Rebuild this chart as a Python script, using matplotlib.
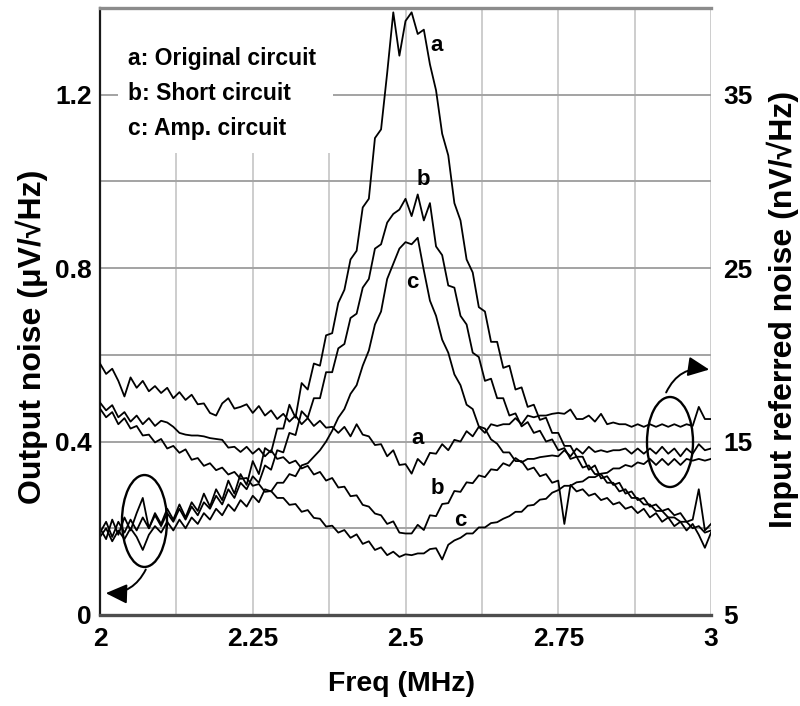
import numpy as np
import matplotlib
matplotlib.use("Agg")
import matplotlib.pyplot as plt
from matplotlib.patches import Ellipse, Rectangle
from matplotlib.font_manager import FontProperties

plt.rcParams['font.family'] = ['Liberation Sans', 'DejaVu Sans']

# Frequency sweep (MHz)
freq_mhz = np.linspace(2.0, 3.0, 101)

# Output noise, uV/sqrt(Hz) (left axis)
out_a = [0.20, 0.175, 0.22, 0.185, 0.225, 0.195, 0.235, 0.27, 0.20, 0.235,
         0.21, 0.245, 0.22, 0.255, 0.225, 0.26, 0.24, 0.28, 0.25, 0.29,
         0.265, 0.31, 0.28, 0.325, 0.30, 0.355, 0.325, 0.385, 0.375, 0.43,
         0.43, 0.485, 0.455, 0.535, 0.52, 0.58, 0.575, 0.645, 0.65, 0.72,
         0.75, 0.82, 0.84, 0.94, 0.96, 1.10, 1.12, 1.25, 1.39, 1.29,
         1.37, 1.39, 1.34, 1.35, 1.27, 1.21, 1.11, 1.06, 0.95, 0.91,
         0.82, 0.79, 0.71, 0.70, 0.63, 0.63, 0.57, 0.575, 0.52, 0.525,
         0.48, 0.485, 0.45, 0.455, 0.42, 0.42, 0.39, 0.39, 0.365, 0.365,
         0.335, 0.345, 0.315, 0.32, 0.30, 0.305, 0.28, 0.285, 0.265, 0.27,
         0.25, 0.255, 0.24, 0.245, 0.23, 0.235, 0.215, 0.22, 0.29, 0.195,
         0.21]
out_b = [0.19, 0.215, 0.18, 0.215, 0.19, 0.22, 0.195, 0.225, 0.20, 0.23,
         0.205, 0.235, 0.215, 0.245, 0.22, 0.25, 0.23, 0.26, 0.245, 0.275,
         0.255, 0.29, 0.27, 0.305, 0.29, 0.32, 0.305, 0.345, 0.335, 0.38,
         0.375, 0.42, 0.415, 0.47, 0.455, 0.50, 0.50, 0.56, 0.56, 0.615,
         0.625, 0.685, 0.695, 0.755, 0.775, 0.845, 0.855, 0.905, 0.925, 0.935,
         0.96, 0.92, 0.97, 0.91, 0.95, 0.85, 0.83, 0.76, 0.755, 0.69,
         0.67, 0.605, 0.595, 0.54, 0.545, 0.50, 0.50, 0.46, 0.465, 0.435,
         0.445, 0.42, 0.425, 0.40, 0.405, 0.38, 0.385, 0.36, 0.365, 0.34,
         0.345, 0.325, 0.325, 0.305, 0.305, 0.285, 0.29, 0.27, 0.27, 0.255,
         0.255, 0.24, 0.24, 0.225, 0.225, 0.215, 0.215, 0.20, 0.205, 0.19,
         0.195]
out_c = [0.18, 0.20, 0.17, 0.195, 0.175, 0.20, 0.18, 0.15, 0.185, 0.205,
         0.19, 0.215, 0.195, 0.22, 0.20, 0.225, 0.21, 0.235, 0.22, 0.245,
         0.23, 0.255, 0.24, 0.265, 0.25, 0.275, 0.26, 0.29, 0.285, 0.305,
         0.305, 0.325, 0.32, 0.345, 0.35, 0.365, 0.38, 0.40, 0.425, 0.455,
         0.475, 0.51, 0.53, 0.575, 0.61, 0.67, 0.70, 0.775, 0.81, 0.845,
         0.86, 0.855, 0.87, 0.795, 0.725, 0.69, 0.635, 0.605, 0.555, 0.53,
         0.485, 0.475, 0.435, 0.43, 0.405, 0.395, 0.375, 0.375, 0.355, 0.355,
         0.335, 0.34, 0.32, 0.325, 0.305, 0.31, 0.21, 0.30, 0.285, 0.29,
         0.275, 0.28, 0.265, 0.27, 0.255, 0.26, 0.245, 0.25, 0.235, 0.245,
         0.225, 0.235, 0.215, 0.225, 0.205, 0.215, 0.195, 0.21, 0.185, 0.155,
         0.19]

# Input referred noise, nV/sqrt(Hz) (right axis)
in_a = [19.5, 18.9, 19.2, 18.5, 17.6, 18.7, 18.1, 18.5, 17.9, 18.2,
        17.8, 18.1, 17.5, 17.85, 17.4, 17.7, 17.15, 17.2, 16.65, 16.5,
        17.2, 17.5, 16.9, 17.0, 17.15, 16.65, 17.05, 16.5, 16.8, 16.3,
        16.6, 16.15, 16.5, 16.0, 16.35, 15.9, 16.2, 15.8, 15.85, 15.5,
        15.85, 15.3, 16.0, 15.4, 15.3, 14.8, 14.85, 14.15, 14.5, 13.65,
        13.7, 13.15, 14.0, 13.65, 14.35, 14.3, 14.85, 14.5, 15.1, 15.0,
        15.6, 15.3, 15.85, 15.5, 16.0, 15.9, 16.0, 16.0, 16.35, 16.0,
        16.5, 16.4, 16.5, 16.5, 16.6, 16.65, 16.6, 16.85, 16.3, 16.3,
        16.5, 16.15, 16.6, 16.0, 16.1, 16.0, 16.0, 15.85, 16.0, 15.85,
        16.0, 15.85, 16.0, 15.85, 16.0, 15.85, 16.0, 15.9, 17.0, 16.3,
        16.3]
in_b = [17.25, 16.8, 17.1, 16.4, 16.7, 16.15, 16.5, 16.0, 16.35, 15.9,
        16.2, 16.1, 15.85, 15.5, 15.4, 15.35, 15.35, 15.3, 15.2, 15.15,
        15.1, 14.65, 14.7, 14.4, 14.7, 14.3, 14.6, 14.15, 14.5, 14.0,
        14.1, 13.75, 13.9, 13.45, 13.6, 13.1, 13.25, 12.75, 12.9, 12.35,
        12.4, 11.85, 11.9, 11.35, 11.25, 10.85, 10.75, 10.25, 10.4, 9.75,
        9.7, 9.7, 10.2, 9.9, 10.75, 10.7, 11.4, 11.45, 12.15, 12.1,
        12.65, 12.6, 13.05, 12.95, 13.4, 13.35, 13.75, 13.6, 14.05, 13.8,
        14.0, 14.0, 14.1, 14.15, 14.2, 14.15, 14.5, 14.15, 14.6, 14.3,
        14.7, 14.4, 14.5, 14.4, 14.5, 14.5, 14.6, 14.3, 14.6, 14.3,
        14.6, 14.3, 14.7, 14.3, 14.6, 14.15, 14.6, 14.3, 14.85, 14.5,
        14.6]
in_c = [16.9, 16.4, 16.7, 16.0, 16.35, 15.75, 15.9, 15.35, 15.4, 14.95,
        15.15, 14.6, 14.75, 14.35, 14.55, 13.95, 14.05, 13.6, 13.75, 13.35,
        13.5, 13.1, 13.25, 12.85, 12.9, 12.45, 12.55, 12.1, 12.15, 11.75,
        11.75, 11.35, 11.4, 10.95, 11.05, 10.6, 10.55, 10.1, 10.15, 9.75,
        9.9, 9.45, 9.65, 9.1, 9.25, 8.75, 8.9, 8.45, 8.65, 8.35,
        8.5, 8.45, 8.55, 8.55, 8.8, 8.85, 8.2, 9.05, 9.3, 9.45,
        9.7, 9.7, 10.05, 10.05, 10.3, 10.35, 10.55, 10.7, 10.95, 10.95,
        11.3, 11.35, 11.65, 11.7, 12.05, 12.2, 12.45, 12.45, 12.65, 12.7,
        12.95, 12.95, 13.15, 13.2, 13.45, 13.45, 13.65, 13.55, 13.8, 13.7,
        14.0, 13.65, 14.0, 13.65, 14.0, 13.65, 14.0, 13.9, 14.0, 13.9,
        14.0]

x_ticks = [2.0, 2.25, 2.5, 2.75, 3.0]
x_ticklabels = ["2", "2.25", "2.5", "2.75", "3"]
left_ticks = [0.0, 0.4, 0.8, 1.2]
left_ticklabels = ["0", "0.4", "0.8", "1.2"]
right_ticks = [5, 15, 25, 35]
right_ticklabels = ["5", "15", "25", "35"]
legend_lines = ["a: Original circuit", "b: Short circuit", "c: Amp. circuit"]

fig = plt.figure(figsize=(8, 7.06), dpi=100)
ax = fig.add_axes([0.125, 0.1289, 0.76375, 0.85977])
ax.set_xlim(2.0, 3.0)
ax.set_ylim(0.0, 1.4)

# grid: every 0.125 MHz and every 0.2 uV
ax.set_xticks(x_ticks)
ax.set_xticklabels(x_ticklabels)
ax.set_xticks(np.arange(2.0, 3.001, 0.125), minor=True)
ax.set_yticks(left_ticks)
ax.set_yticklabels(left_ticklabels)
ax.set_yticks(np.arange(0.0, 1.401, 0.2), minor=True)
ax.grid(True, which='both', axis='x', color='#c9c9c9', lw=1.3)
ax.grid(True, which='both', axis='y', color='#a3a3a3', lw=1.4)

for side in ['top', 'bottom', 'left', 'right']:
    ax.spines[side].set_zorder(3)
ax.spines['top'].set_color('#8c8c8c')
ax.spines['top'].set_linewidth(2.4)
ax.spines['bottom'].set_color('#4d4d4d')
ax.spines['bottom'].set_linewidth(2.4)
ax.spines['left'].set_color('#1a1a1a')
ax.spines['left'].set_linewidth(1.6)
ax.spines['right'].set_visible(False)

tick_font = dict(family=['Liberation Sans', 'DejaVu Sans'], weight='bold', size=19)
ax.tick_params(axis='both', which='both', length=0)
ax.tick_params(axis='x', pad=9)
ax.tick_params(axis='y', pad=6)
for lab in ax.get_xticklabels() + ax.get_yticklabels():
    lab.set_fontproperties(FontProperties(**tick_font))

ax2 = ax.twinx()
ax2.set_ylim(5, 40)
ax2.set_yticks(right_ticks)
ax2.set_yticklabels(right_ticklabels)
ax2.tick_params(axis='y', length=0, pad=9)
for lab in ax2.get_yticklabels():
    lab.set_fontproperties(FontProperties(**tick_font))
for side in ['top', 'bottom', 'left', 'right']:
    ax2.spines[side].set_visible(False)

line_kw = dict(color='black', lw=1.3)
for series in (out_a, out_b, out_c):
    ax.plot(freq_mhz, series, **line_kw)
for series in (in_a, in_b, in_c):
    ax2.plot(freq_mhz, series, **line_kw)

# legend block
ax.add_patch(Rectangle((2.0295, 1.0655), 0.3518, 0.34, facecolor='white',
                       edgecolor='none', zorder=1.8))
legend_font = dict(family=['Liberation Sans', 'DejaVu Sans'], weight='bold', size=16.5)
for text, yb in zip(legend_lines, [1.2685, 1.1877, 1.107]):
    ax.text(2.0458, yb, text, va='baseline', ha='left', zorder=4, **legend_font)

# curve tags
tag_font = dict(family=['Liberation Sans', 'DejaVu Sans'], size=16, weight='bold')
ax.text(2.5516, 1.3146, 'a', ha='center', va='center', **tag_font)
ax.text(2.5286, 1.0055, 'b', ha='center', va='center', **tag_font)
ax.text(2.5106, 0.768, 'c', ha='center', va='center', **tag_font)
ax2.text(2.5205, 15.2, 'a', ha='center', va='center', **tag_font)
ax2.text(2.5516, 12.27, 'b', ha='center', va='center', **tag_font)
ax2.text(2.589, 10.42, 'c', ha='center', va='center', **tag_font)

# axis pointers
ax2.add_patch(Ellipse((2.0728, 0.2168 * 25 + 5), 0.0737, 0.212 * 25,
                      fill=False, edgecolor='black', lw=1.7, zorder=5))
ax2.add_patch(Ellipse((2.9329, 0.399 * 25 + 5), 0.0753, 0.2076 * 25,
                      fill=False, edgecolor='black', lw=1.7, zorder=5))
arrow_style = '-|>,head_length=1.3,head_width=0.6'
ax.annotate('', xy=(2.0049, 0.0507), xytext=(2.0769, 0.1107),
            arrowprops=dict(arrowstyle=arrow_style,
                            connectionstyle='arc3,rad=-0.35', color='black', lw=1.4),
            annotation_clip=False, zorder=6)
ax.annotate('', xy=(3.0016, 0.565), xytext=(2.9247, 0.5074),
            arrowprops=dict(arrowstyle=arrow_style,
                            connectionstyle='arc3,rad=-0.4', color='black', lw=1.4),
            annotation_clip=False, zorder=6)

label_font = dict(family=['Liberation Sans', 'DejaVu Sans'], weight='bold', size=23)
fig.text(0.040, 0.5227, 'Output noise (\u03bcV/\u221aHz)', rotation=90,
         ha='center', va='center', **label_font)
fig.text(0.979, 0.561, 'Input referred noise (nV/\u221aHz)', rotation=90,
         ha='center', va='center', **label_font)
fig.text(0.5025, 0.031, 'Freq (MHz)', ha='center', va='center',
         family=['Liberation Sans', 'DejaVu Sans'], weight='bold', size=20.5)

fig.savefig('out.png', dpi=100)
